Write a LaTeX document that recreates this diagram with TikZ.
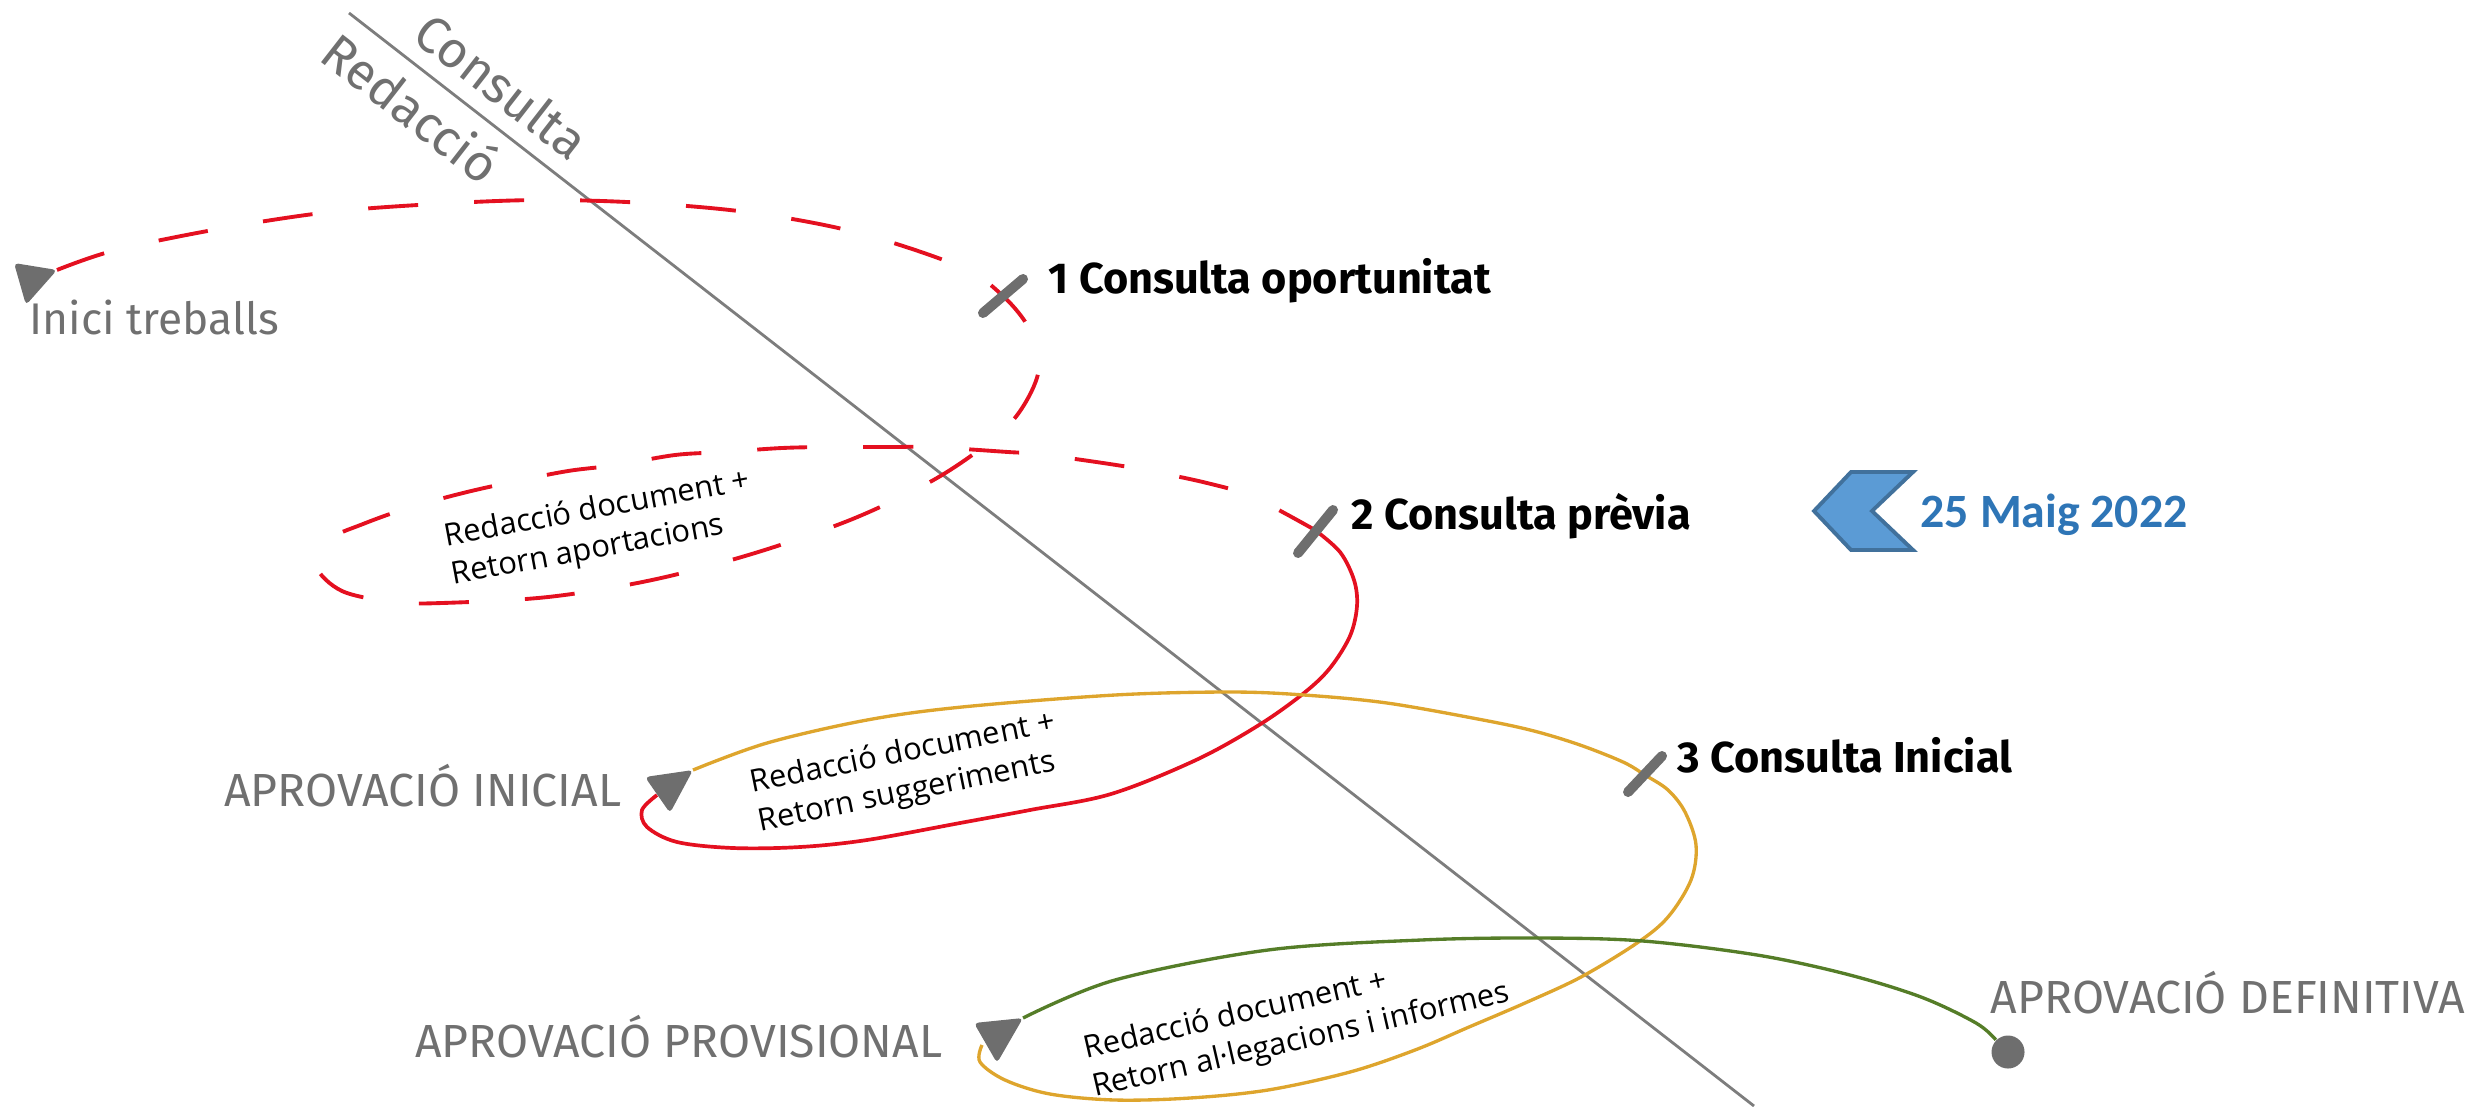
\documentclass[tikz,border=0pt]{standalone}
\usepackage{fontspec}
\setmainfont{Fira Sans}
\newfontfamily\labfont{Fira Sans}
\newfontfamily\boldfont{Fira Sans}
\newfontfamily\txtfont{Open Sans}
\newfontfamily\datfont{Carlito}
\usepackage{graphicx}
\definecolor{cred}{RGB}{228,16,32}
\definecolor{corange}{RGB}{222,165,45}
\definecolor{cgreen}{RGB}{85,125,40}
\definecolor{labgray}{RGB}{112,112,112}
\definecolor{markgray}{RGB}{110,110,110}
\definecolor{diaggray}{RGB}{125,125,125}
\definecolor{dateblue}{RGB}{46,117,182}
\definecolor{chevfill}{RGB}{91,155,213}
\definecolor{chevline}{RGB}{65,113,156}
\begin{document}
\begin{tikzpicture}[x=0.01cm,y=-0.01cm,
  graylab/.style={text=labgray,inner sep=0,font=\labfont\fontsize{13.2}{15}\selectfont},
  axislab/.style={text=labgray,inner sep=0,rotate=-37.88,font=\labfont\fontsize{14.5}{16}\selectfont},
  phaselab/.style={text=black,inner sep=0,font=\boldfont\bfseries\fontsize{12.3}{14}\selectfont},
  looptext/.style={text=black,inner sep=0,align=left,font=\txtfont\fontsize{8.8}{11.1}\selectfont},
  phasetick/.style={draw=markgray,line width=0.1cm,line cap=round},
  marker/.style={fill=markgray,rounded corners=1.2pt},
  redline/.style={draw=cred,line width=1.05pt},
  reddash/.style={draw=cred,line width=1.1pt,dash pattern=on 0.5cm off 0.56cm},
  orline/.style={draw=corange,line width=0.95pt},
  grline/.style={draw=cgreen,line width=0.95pt},
  smoothpath/.style={smooth,tension=0.55}]
\useasboundingbox (0,0) rectangle (2489,1106);

% diagonal axis
\coordinate (axA) at (349,13);
\coordinate (axB) at (1754,1106);
\draw[diaggray,line width=0.8pt] (axA) -- (axB);
\node[axislab] (consulta) at (502,86) {Consulta};
\node[axislab] (redaccio) at (412,107) {Redacció};

% key points
\coordinate (s0) at (57,270);
\coordinate (k1) at (1003,296);
\coordinate (k2) at (1315,530);
\coordinate (k3) at (1645,775);
\coordinate (s1) at (693,770);
\coordinate (s2) at (1023,1018);

% red dashed path: start -> tick 1 -> loop -> tick 2
\draw[reddash] plot[smoothpath] coordinates {(s0) (116,250) (224,228) (330,212) (435,204) (540,200) (645,203) (754,213) (859,233) (961,267) (k1) (1030,330) (1039,368) (1024,405) (997,436) (937,478) (855,518) (755,553) (652,580) (548,597) (442,603) (393,602) (342,591) (316,566) (328,540) (363,524) (408,508) (463,493) (512,482) (568,471) (617,465) (675,455) (724,452) (782,448) (832,447) (893,447) (931,447) (1008,452) (1038,454) (1103,463) (1145,470) (1207,483) (1253,497) (k2)};

% red solid path: tick 2 -> aprovacio inicial
\draw[redline] plot[smoothpath] coordinates {(k2) (1340,552) (1354,580) (1357,606) (1350,636) (1330,668) (1304,693) (1259,725) (1196,760) (1111,794) (1030,810) (960,823) (867,840) (800,847) (733,848) (677,842) (647,827) (642,810) (657,795)};

% orange path: aprovacio inicial -> tick 3 -> aprovacio provisional
\draw[orline] plot[smoothpath] coordinates {(s1) (767,743) (867,720) (962,707) (1115,695) (1230,692) (1304,695) (1387,703) (1483,720) (1534,731) (1580,745) (1623,762) (k3) (1668,790) (1685,812) (1696,845) (1691,880) (1668,917) (1637,943) (1581,977) (1525,1003) (1469,1027) (1415,1050) (1350,1072) (1268,1090) (1190,1098) (1115,1100) (1050,1094) (1005,1080) (980,1062) (982,1045)};

% end dot
\node[circle,fill=markgray,minimum size=0.33cm,inner sep=0] (dot) at (2008,1052) {};

% green path: aprovacio provisional -> definitiva
\draw[grline] plot[smoothpath] coordinates {(s2) (1115,980) (1268,950) (1421,940) (1539,938) (1643,941) (1757,955) (1846,974) (1921,997) (1976,1023) (dot.north west)};

% markers (triangles)
\fill[marker] (14,263) -- (s0) -- (26,305) -- cycle;
\fill[marker] (645,777) -- (s1) -- (670,813) -- cycle;
\fill[marker] (974,1023) -- (s2) -- (997,1063) -- cycle;

% ticks
\draw[phasetick] (983,313) -- (1023,279);
\draw[phasetick] (1298,553) -- (1333,510);
\draw[phasetick] (1628,792) -- (1662,756);

% labels
\node[graylab,anchor=base west,font=\labfont\fontsize{12.6}{14}\selectfont] (inici) at (29,334) {Inici treballs};
\node[graylab,anchor=base east] (ainicial) at (622,806) {APROVACIÓ INICIAL};
\node[graylab,anchor=base east] (aprov) at (943,1057) {APROVACIÓ PROVISIONAL};
\node[graylab,anchor=base west] (adef) at (1990,1013) {APROVACIÓ DEFINITIVA};

\node[phaselab,anchor=base west] (c1) at (1048,293) {1 Consulta oportunitat};
\node[phaselab,anchor=base west] (c2) at (1351,529) {2 Consulta prèvia};
\node[phaselab,anchor=base west] (c3) at (1677,772) {3 Consulta Inicial};

\node[looptext,rotate=10.5] (la) at (601,529) {Redacció document +\\Retorn aportacions};
\node[looptext,rotate=11.5] (lb) at (907,773) {Redacció document +\\Retorn suggeriments};
\node[looptext,rotate=13] (lc) at (1297,1022) {Redacció document +\\Retorn al·legacions i informes};

% date marker
\filldraw[fill=chevfill,draw=chevline,line width=1.1pt,line join=miter] (1814,511) -- (1851,472) -- (1913,472) -- (1872,511) -- (1913,550) -- (1851,550) -- cycle;
\node[text=dateblue,inner sep=0,anchor=base west,font=\datfont\bfseries\fontsize{13.6}{16}\selectfont] (date) at (1920,527) {25 Maig 2022};
\end{tikzpicture}
\end{document}
